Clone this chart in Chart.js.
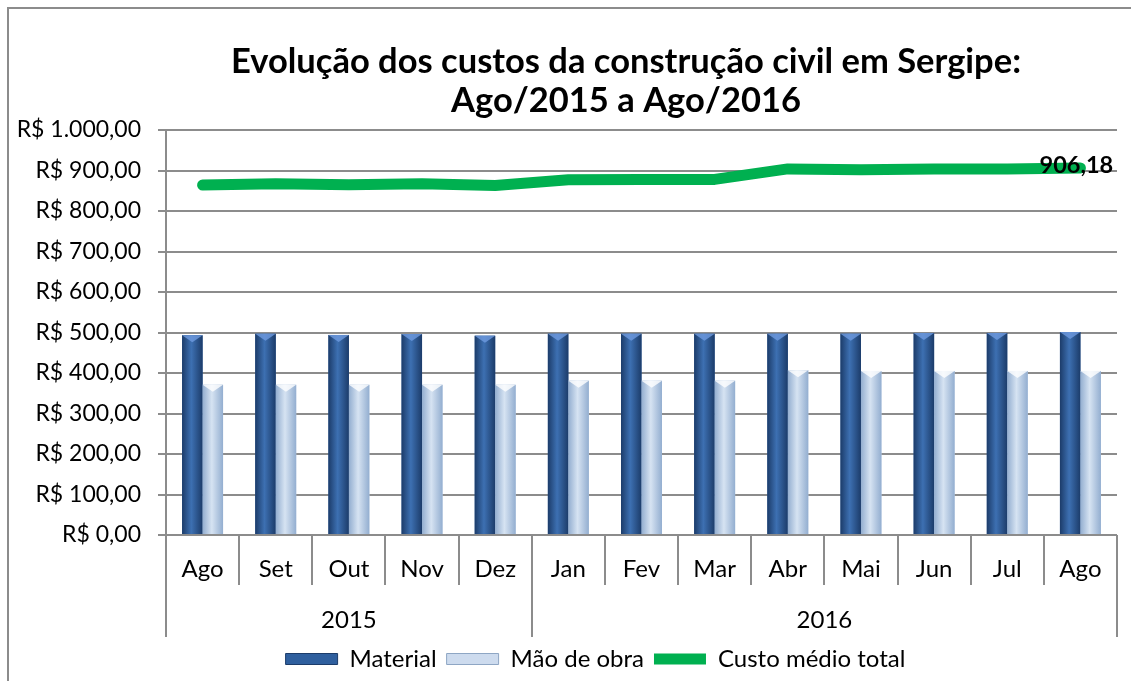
<!DOCTYPE html>
<html>
<head>
<meta charset="utf-8">
<title>Custos da construção civil em Sergipe</title>
<script src="https://cdn.jsdelivr.net/npm/chart.js"></script>
<style>
  html, body { margin: 0; padding: 0; background: #fff; overflow: hidden; }
  #frame { position: absolute; left: 7px; top: 7px; width: 1150px; height: 700px; border: 2px solid #8c8c8c; }
  #chart { position: absolute; left: 0; top: 0; }
</style>
</head>
<body>
<div id="frame"></div>
<canvas id="chart" width="1131" height="681"></canvas>
<script>
// data
const months = ['Ago', 'Set', 'Out', 'Nov', 'Dez', 'Jan', 'Fev', 'Mar', 'Abr', 'Mai', 'Jun', 'Jul', 'Ago'];
const years = ['2015', '2016'];
const yearSpans = [5, 8];
const material = [493, 497, 494, 496, 492, 497, 497, 497, 497, 497, 499, 499, 501.18];
const maoDeObra = [371, 371, 371, 371, 371, 381, 381, 381, 407, 405, 405, 405, 405];
const custoTotal = [864, 867, 865, 867, 863, 877, 878, 878, 904, 902, 904, 904, 906.18];
const lastLabel = '906,18';
const titleLines = ['Evolução dos custos da construção civil em Sergipe:', 'Ago/2015 a Ago/2016'];

const FONT = 'Lato, "Open Sans", sans-serif';

function brl(v) {
  return 'R$ ' + v.toLocaleString('pt-BR', { minimumFractionDigits: 2, maximumFractionDigits: 2 });
}

// title, gradients + bevel on the bars, separators, year row and data label
const excelLook = {
  id: 'excelLook',
  afterLayout(chart) {
    // excel centres the legend a bit right of the canvas middle
    chart.legend.left += 37;
    chart.legend.right += 37;
  },
  afterDatasetsDraw(chart) {
    const ctx = chart.ctx;
    const looks = [
      { edge: '#1c3c6a', mid: '#3d70b2', top: '#6f9be0' },
      { edge: '#93aed0', mid: '#d6e3f2', top: '#ffffff' }
    ];
    [0, 1].forEach(di => {
      const lk = looks[di];
      chart.getDatasetMeta(di).data.forEach(bar => {
        const l = bar.x - bar.width / 2, r = bar.x + bar.width / 2;
        const t = bar.y, b = bar.base;
        const g = ctx.createLinearGradient(l, 0, r, 0);
        g.addColorStop(0, lk.edge);
        g.addColorStop(0.45, lk.mid);
        g.addColorStop(1, lk.edge);
        ctx.save();
        ctx.fillStyle = g;
        ctx.fillRect(l, t, r - l, b - t);
        ctx.beginPath();
        ctx.moveTo(l, t);
        ctx.lineTo(r, t);
        ctx.lineTo(bar.x, t + 7);
        ctx.closePath();
        ctx.fillStyle = lk.top;
        ctx.globalAlpha = 0.8;
        ctx.fill();
        ctx.restore();
      });
    });
  },
  afterDraw(chart) {
    const ctx = chart.ctx;
    const xs = chart.scales.x;
    const step = (xs.right - xs.left) / months.length;
    const yearBreaks = [0];
    yearSpans.reduce((acc, n) => { yearBreaks.push(acc + n); return acc + n; }, 0);

    ctx.save();
    ctx.fillStyle = '#000';
    ctx.textAlign = 'center';
    ctx.textBaseline = 'middle';
    ctx.font = 'bold 34.5px ' + FONT;
    ctx.fillText(titleLines[0], 626, 62);
    ctx.fillText(titleLines[1], 626, 101);

    ctx.strokeStyle = '#8c8c8c';
    ctx.lineWidth = 2;
    for (let i = 0; i <= months.length; i++) {
      const x = Math.round(xs.left + i * step);
      const long = yearBreaks.includes(i);
      ctx.beginPath();
      ctx.moveTo(x, xs.top);
      ctx.lineTo(x, xs.top + (long ? 102 : 50));
      ctx.stroke();
    }

    ctx.font = '24px ' + FONT;
    let start = 0;
    years.forEach((yr, i) => {
      const cx = xs.left + (start + yearSpans[i] / 2) * step;
      ctx.fillText(yr, cx, xs.top + 85);
      start += yearSpans[i];
    });

    const pts = chart.getDatasetMeta(2).data;
    const p = pts[pts.length - 1];
    ctx.font = 'bold 23.5px ' + FONT;
    ctx.fillText(lastLabel, p.x - 4, p.y - 3);
    ctx.restore();
  }
};

new Chart(document.getElementById('chart'), {
  type: 'bar',
  data: {
    labels: months,
    datasets: [
      {
        label: 'Material',
        data: material,
        backgroundColor: '#2f5f9e',
        categoryPercentage: 0.56,
        barPercentage: 1.0
      },
      {
        label: 'Mão de obra',
        data: maoDeObra,
        backgroundColor: '#c6d6ea',
        categoryPercentage: 0.56,
        barPercentage: 1.0
      },
      {
        type: 'line',
        label: 'Custo médio total',
        data: custoTotal,
        borderColor: '#00b050',
        backgroundColor: '#00b050',
        borderWidth: 11,
        borderCapStyle: 'round',
        borderJoinStyle: 'round',
        pointRadius: 0,
        tension: 0,
        fill: false
      }
    ]
  },
  options: {
    responsive: false,
    animation: false,
    layout: { padding: { left: 0, right: 14, top: 130, bottom: 0 } },
    plugins: {
      title: { display: false },
      legend: {
        position: 'bottom',
        labels: {
          color: '#000',
          font: { family: FONT, size: 24 },
          boxWidth: 52,
          boxHeight: 11,
          padding: 10,
          generateLabels: () => [
            { text: 'Material', fillStyle: '#2f5f9e', strokeStyle: '#1c3c6a', lineWidth: 1, datasetIndex: 0 },
            { text: 'Mão de obra', fillStyle: '#cddbee', strokeStyle: '#8ea6c4', lineWidth: 1, datasetIndex: 1 },
            { text: 'Custo médio total', fillStyle: '#00b050', strokeStyle: '#00b050', lineWidth: 0, datasetIndex: 2 }
          ]
        }
      },
      tooltip: { enabled: false }
    },
    scales: {
      x: {
        grid: { display: false },
        border: { display: false },
        ticks: { color: '#000', font: { family: FONT, size: 24 }, padding: 12, maxRotation: 0, autoSkip: false },
        afterFit: s => { s.height = 102; }
      },
      y: {
        min: 0,
        max: 1000,
        ticks: {
          stepSize: 100,
          color: '#000',
          font: { family: FONT, size: 23 },
          padding: 17,
          callback: v => brl(v)
        },
        grid: { color: '#8c8c8c', lineWidth: 2, tickLength: 8 },
        border: { color: '#8c8c8c', width: 2 },
        afterFit: s => { s.width = 166; }
      }
    }
  },
  plugins: [excelLook]
});
</script>
</body>
</html>
